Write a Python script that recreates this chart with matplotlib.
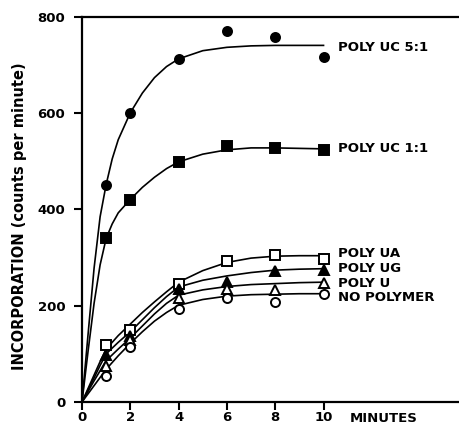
import numpy as np
import matplotlib
matplotlib.use("Agg")
import matplotlib.pyplot as plt

# measured points (minutes, counts per minute)
t_pts = [1, 2, 4, 6, 8, 10]
uc51 = [451, 601, 713, 771, 759, 717]
uc11 = [341, 420, 499, 532, 528, 524]
ua = [118, 150, 245, 293, 306, 298]
ug = [98, 137, 235, 249, 272, 275]
u = [75, 129, 216, 235, 233, 247]
nopoly = [54, 114, 193, 216, 208, 225]

# hand-drawn curves
t_fit = [0, 0.25, 0.5, 0.75, 1, 1.25, 1.5, 2, 2.5, 3, 3.5, 4, 5, 6, 7, 8, 9, 10]
uc51_fit = [0, 140, 278, 385, 452, 505, 545, 601, 642, 674, 697, 713, 730, 737, 740, 741, 741, 741]
uc11_fit = [0, 105, 205, 285, 340, 370, 393, 421, 446, 467, 485, 499, 515, 524, 528, 528, 527, 526]
ua_fit = [0, 28, 56, 84, 110, 124, 138, 162, 186, 208, 229, 249, 273, 290, 299, 303, 304, 304]
ug_fit = [0, 25, 50, 76, 100, 112, 124, 146, 171, 196, 219, 239, 253, 262, 269, 274, 276, 277]
u_fit = [0, 22, 44, 65, 86, 98, 110, 133, 158, 183, 205, 222, 233, 240, 244, 246, 248, 249]
np_fit = [0, 17, 34, 51, 68, 82, 96, 122, 146, 168, 186, 201, 213, 220, 223, 224, 225, 225]

labels = ["POLY UC 5:1", "POLY UC 1:1", "POLY UA", "POLY UG", "POLY U", "NO POLYMER"]
label_y = [736, 526, 308, 277, 247, 218]

x_ticks = [0, 2, 4, 6, 8, 10]
y_ticks = [0, 200, 400, 600, 800]

plt.rcParams['font.family'] = ['DejaVu Sans']
plt.rcParams['font.weight'] = 'bold'

fig = plt.figure(figsize=(4.6, 4.26), dpi=100)
ax = fig.add_axes([82 / 460, 24 / 426, 378 / 460, 385 / 426])

series = [
    (uc51, uc51_fit, 'o', 'black'),
    (uc11, uc11_fit, 's', 'black'),
    (ua, ua_fit, 's', 'white'),
    (ug, ug_fit, '^', 'black'),
    (u, u_fit, '^', 'white'),
    (nopoly, np_fit, 'o', 'white'),
]

for pts, fit, marker, face in series:
    ax.plot(t_fit, fit, color='black', lw=1.2, zorder=2)
    ax.plot(t_pts, pts, linestyle='none', marker=marker, ms=6.5,
            mfc=face, mec='black', mew=1.4, zorder=3)

for text, yv in zip(labels, label_y):
    ax.text(10.6, yv, text, fontsize=9.5, fontweight='bold', va='center', ha='left')

ax.set_xlim(0, 15.65)
ax.set_ylim(0, 800)
ax.set_xticks(x_ticks)
ax.set_yticks(y_ticks)
ax.tick_params(axis='y', direction='out', length=6, width=1.5, pad=6, labelsize=9.5)
ax.tick_params(axis='x', direction='out', length=5.5, width=1.5, pad=1, labelsize=9.5)
for lab in ax.get_xticklabels() + ax.get_yticklabels():
    lab.set_fontweight('bold')

ax.spines['right'].set_visible(False)
for side in ['left', 'bottom', 'top']:
    ax.spines[side].set_linewidth(1.6)

fig.text(20 / 460, 1 - 216 / 426, "INCORPORATION (counts per minute)", rotation=90,
         ha='center', va='center', fontsize=10.5, fontweight='bold')
fig.text(350 / 460, 1 - 419 / 426, "MINUTES", ha='left', va='center',
         fontsize=9.5, fontweight='bold')

fig.savefig("out.png", dpi=100)
